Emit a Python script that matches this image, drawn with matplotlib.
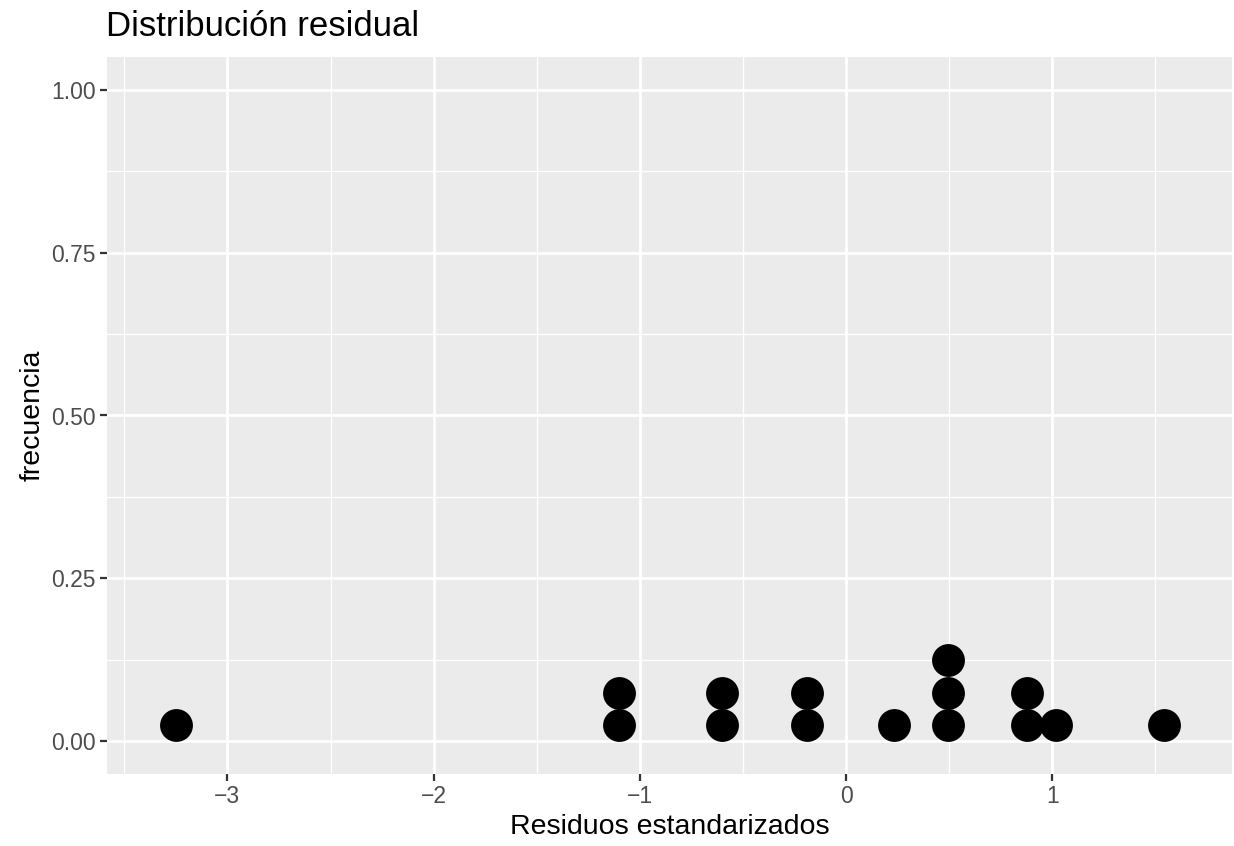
import matplotlib.pyplot as plt
import numpy as np

# residuos estandarizados (valores distintos) y cuántos caen en cada uno
residuos = [-3.25, -1.10, -0.60, -0.19, 0.235, 0.497, 0.878, 1.02, 1.54]
conteos = [1, 2, 2, 2, 1, 3, 2, 1, 1]
paso = 0.05  # altura de cada punto apilado (frecuencia)

xticks = [-3, -2, -1, 0, 1]
yticks = [0.0, 0.25, 0.5, 0.75, 1.0]

plt.rcParams['font.family'] = ['Liberation Sans', 'DejaVu Sans']

fig = plt.figure(figsize=(12.34, 8.46), dpi=100)
ax = fig.add_axes([107 / 1234, 1 - 774 / 846, 1125 / 1234, 717 / 846])
ax.set_facecolor('#EBEBEB')
for s in ax.spines.values():
    s.set_visible(False)

# apilar los puntos como en un dotplot
xs, ys = [], []
for x, n in zip(residuos, conteos):
    for i in range(n):
        xs.append(x)
        ys.append((i + 0.5) * paso)
ax.scatter(xs, ys, s=560, color='black', zorder=3, linewidths=0)

ax.set_xlim(-3.584, 1.872)
ax.set_ylim(-0.05, 1.05)
ax.set_xticks(xticks)
ax.set_xticklabels(['\u22123', '\u22122', '\u22121', '0', '1'])
ax.set_yticks(yticks)
ax.set_yticklabels(['0.00', '0.25', '0.50', '0.75', '1.00'])
ax.set_xticks(np.arange(-3.5, 1.9, 1.0), minor=True)
ax.set_yticks(np.arange(0.125, 1.0, 0.25), minor=True)
ax.grid(which='major', color='white', linewidth=2.0)
ax.grid(which='minor', color='white', linewidth=1.0)
ax.set_axisbelow(True)
ax.tick_params(which='major', length=5, width=1.6, color='#333333',
               labelcolor='#4D4D4D', labelsize=16.5, pad=3)
ax.tick_params(which='minor', length=0)

ax.set_xlabel('Residuos estandarizados', fontsize=20.5, labelpad=4)
ax.set_ylabel('frecuencia', fontsize=20.5, labelpad=4)
fig.text(106 / 1234, 1 - 36 / 846, 'Distribución residual', fontsize=25,
         ha='left', va='baseline')
# resto de un texto superior cortado por el borde
fig.text(1001 / 1234, 1 + 7 / 846, 'g', fontsize=25, ha='left', va='baseline')

fig.savefig('out.png', dpi=100)
